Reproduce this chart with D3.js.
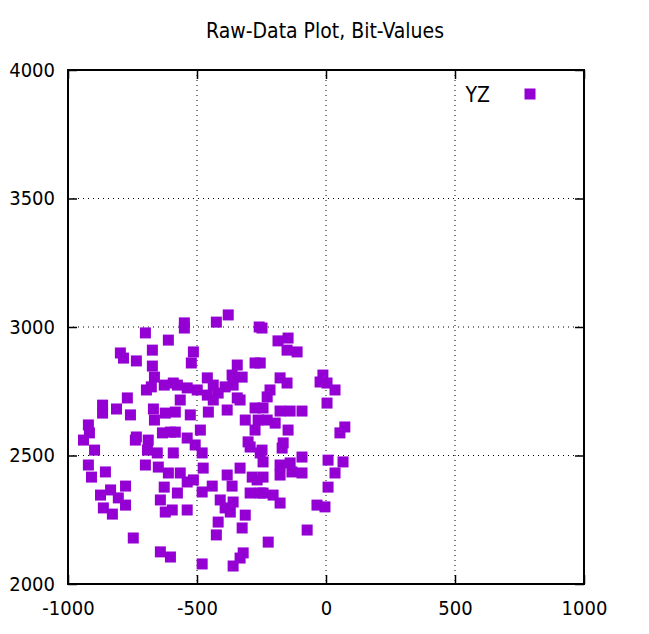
<!DOCTYPE html>
<html lang="en">
<head>
<meta charset="UTF-8">
<title>Raw-Data Plot, Bit-Values</title>
<style>
  body { margin: 0; background: #fff; }
  svg text { font-family: "DejaVu Sans Condensed", "DejaVu Sans", sans-serif; fill: #000; }
</style>
</head>
<body>
<div id="chart"></div>
<script src="https://cdn.jsdelivr.net/npm/d3@7"></script>
<script>
// data (bit values)
let xValues = [-379, -425, -549, -549, -259, -700, -611, -797, -785, -735, -673, -673, -665, -627, -696, -677, -592, -770, -866, -866,
  -812, -758, -669, -665, -623, -921, -917, -940, -735, -689, -634, -603, -514, -522, -344, -275, -364, -325, -460, -576,
  -538, -499, -437, -391, -418, -360, -460, -565, -437, -344, -584, -456, -383, -333, -313, -275, -263, -275, -584, -538,
  -302, -248, -186, -147, -151, -112, -255, -178, -151, -217, -228, -12, -23, 4, 35, 4, -244, -178, -139, -93,
  -228, -197, -147, 73, 54, -166, -897, -921, -909, -855, -874, -835, -777, -805, -777, -863, -828, -747, -642, -603,
  -700, -692, -654, -642, -623, -627, -650, -611, -739, -480, -476, -592, -565, -538, -576, -514, -480, -441, -410, -391,
  -360, -371, -383, -364, -333, -286, -267, -294, -255, -313, -325, -418, -425, -596, -538, -480, -360, -333, -321, -294,
  -255, -248, -170, -244, -178, -178, -139, -132, -93, -93, -244, -244, -205, -178, 8, 66, 35, 8, -35, -4,
  -73, -224, -526, -487, -507]
let yValues = [3047, 3019, 3016, 2996, 3000, 2977, 2949, 2899, 2879, 2868, 2910, 2848, 2805, 2774, 2755, 2767, 2782, 2724, 2696, 2665,
  2681, 2658, 2681, 2638, 2665, 2619, 2588, 2560, 2572, 2560, 2588, 2591, 2903, 2860, 2852, 2860, 2813, 2805, 2802, 2774,
  2763, 2755, 2774, 2767, 2743, 2774, 2735, 2716, 2716, 2724, 2669, 2669, 2677, 2716, 2638, 2685, 2638, 2599, 2591, 2568,
  2553, 2996, 2946, 2957, 2910, 2903, 2860, 2802, 2782, 2755, 2728, 2813, 2786, 2782, 2755, 2704, 2685, 2673, 2673, 2673,
  2638, 2626, 2599, 2611, 2588, 2549, 2521, 2463, 2416, 2436, 2346, 2366, 2381, 2335, 2307, 2296, 2272, 2179, 2125, 2105,
  2463, 2521, 2510, 2327, 2280, 2377, 2455, 2432, 2560, 2510, 2451, 2510, 2432, 2397, 2354, 2405, 2358, 2381, 2327, 2296,
  2319, 2280, 2424, 2381, 2451, 2416, 2405, 2354, 2354, 2268, 2218, 2241, 2191, 2288, 2288, 2078, 2070, 2101, 2121, 2533,
  2510, 2521, 2529, 2475, 2463, 2424, 2471, 2436, 2494, 2432, 2416, 2354, 2346, 2315, 2482, 2475, 2432, 2377, 2307, 2300,
  2210, 2163, 2658, 2599, 2541]
let xTicks = [-1000, -500, 0, 500, 1000]
let yTicks = [2000, 2500, 3000, 3500, 4000]
let seriesName = 'YZ'
let chartTitle = 'Raw-Data Plot, Bit-Values'

let width = 649
let height = 634
let padLeft = 68, padRight = 584, padTop = 70, padBottom = 584
let color = '#9400d3'
let markSize = 11

let svg = d3.select('#chart').append('svg').attr('width', width).attr('height', height)

let x = d3.scaleLinear().domain([-1000, 1000]).range([padLeft, padRight])
let y = d3.scaleLinear().domain([2000, 4000]).range([padBottom, padTop])

// grid lines (dotted)
let grid = svg.append('g')
xTicks.slice(1, -1).forEach(t => {
  grid.append('line').attr('x1', x(t)).attr('x2', x(t)).attr('y1', padTop).attr('y2', padBottom)
    .attr('stroke', '#000').attr('stroke-width', 1).attr('stroke-dasharray', '1,4')
})
yTicks.slice(1, -1).forEach(t => {
  grid.append('line').attr('x1', padLeft).attr('x2', padRight).attr('y1', y(t)).attr('y2', y(t))
    .attr('stroke', '#000').attr('stroke-width', 1).attr('stroke-dasharray', '1,4')
})

// points
svg.append('g').selectAll('rect').data(xValues).join('rect')
  .attr('x', (d, i) => x(d) - markSize / 2)
  .attr('y', (d, i) => y(yValues[i]) - markSize / 2)
  .attr('width', markSize).attr('height', markSize)
  .attr('fill', color)

// axes, ticks pointing inward, mirrored on top/right
let tick = 9
let fmt = d3.format('d')
let xb = d3.axisBottom(x).tickValues(xTicks).tickFormat(d => fmt(d).replace('−', '-')).tickSizeInner(-tick).tickSizeOuter(0).tickPadding(17)
let xt = d3.axisTop(x).tickValues(xTicks).tickSizeInner(-tick).tickSizeOuter(0).tickFormat('')
let yl = d3.axisLeft(y).tickValues(yTicks).tickFormat(fmt).tickSizeInner(-tick).tickSizeOuter(0).tickPadding(13)
let yr = d3.axisRight(y).tickValues(yTicks).tickSizeInner(-tick).tickSizeOuter(0).tickFormat('')

svg.append('g').attr('class', 'axis').attr('transform', 'translate(0,' + padBottom + ')').call(xb)
svg.append('g').attr('class', 'axis').attr('transform', 'translate(0,' + padTop + ')').call(xt)
svg.append('g').attr('class', 'axis').attr('transform', 'translate(' + padLeft + ',0)').call(yl)
svg.append('g').attr('class', 'axis').attr('transform', 'translate(' + padRight + ',0)').call(yr)

d3.selectAll('.axis .domain').remove()
d3.selectAll('.axis .tick line').attr('stroke', '#000').attr('stroke-width', 1.5)
d3.selectAll('.axis .tick text').style('font-size', '20px').attr('fill', '#000')

// border
svg.append('rect').attr('x', padLeft).attr('y', padTop).attr('width', padRight - padLeft).attr('height', padBottom - padTop)
  .attr('fill', 'none').attr('stroke', '#000').attr('stroke-width', 2)

// title
svg.append('text').text(chartTitle).attr('x', 325).attr('y', 38)
  .attr('text-anchor', 'middle').style('font-size', '21px')

// legend
svg.append('text').text(seriesName).attr('x', 490).attr('y', 102)
  .attr('text-anchor', 'end').style('font-size', '21px')
svg.append('rect').attr('x', 530 - markSize / 2).attr('y', 94 - markSize / 2)
  .attr('width', markSize).attr('height', markSize).attr('fill', color)
</script>
</body>
</html>
